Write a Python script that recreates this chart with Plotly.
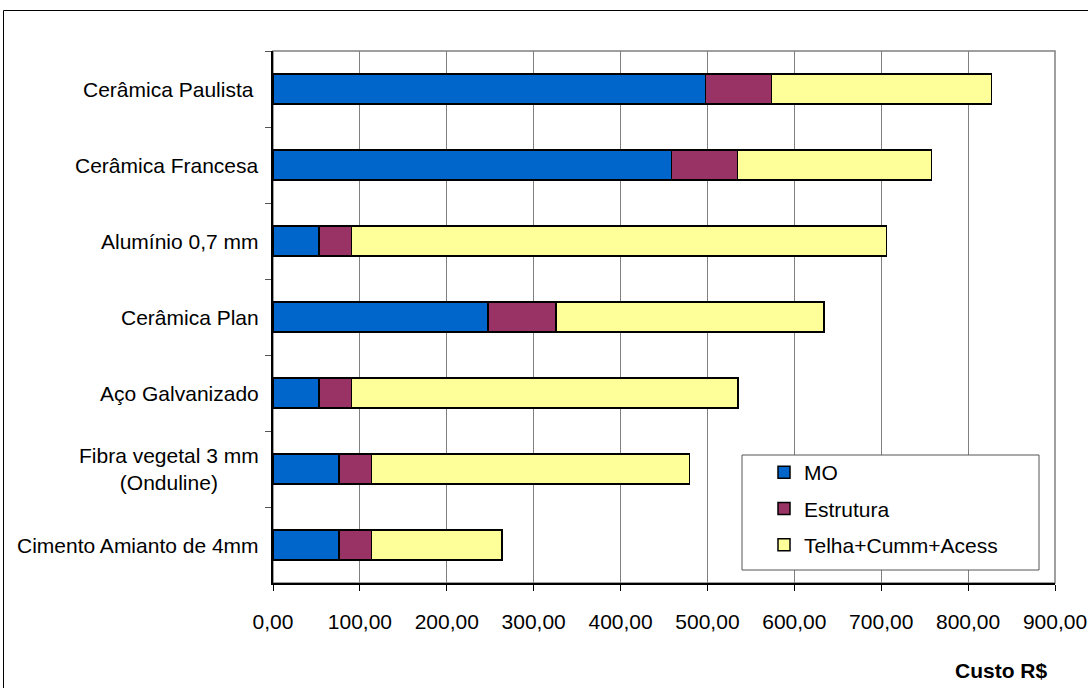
import plotly.graph_objects as go

# Roofing options (top to bottom) and cost breakdown in R$
categories = [
    "Cerâmica Paulista ",
    "Cerâmica Francesa",
    "Alumínio 0,7 mm",
    "Cerâmica Plan",
    "Aço Galvanizado",
    "Fibra vegetal 3 mm<br>(Onduline)",
    "Cimento Amianto de 4mm",
]
mo = [497.5, 458.4, 52.9, 247.4, 52.9, 76.0, 76.0]
estrutura = [76.4, 76.4, 37.6, 78.3, 37.6, 37.2, 37.2]
telha = [253.1, 223.2, 615.3, 308.4, 444.5, 366.0, 150.3]
x_ticks = [0, 100, 200, 300, 400, 500, 600, 700, 800, 900]

series = [
    ("MO", mo, "#0066CC"),
    ("Estrutura", estrutura, "#993366"),
    ("Telha+Cumm+Acess", telha, "#FFFF99"),
]

FONT = "Liberation Sans, Arial, sans-serif"
FS = 21
W, H = 1088, 688
ML, MR, MT, MB = 273, 33, 51, 105
PW, PH = W - ML - MR, H - MT - MB


def px_x(p):
    return (p - ML) / PW


def px_y(p):
    return (H - MB - p) / PH


fig = go.Figure()
for i, (name, vals, color) in enumerate(series):
    fig.add_trace(go.Bar(
        y=categories, x=vals, name=name, orientation="h",
        marker=dict(color=color, line=dict(color="black", width=1.5)),
        legendgroup=f"g{i}",
    ))

# category labels, centred line by line
annotations = [
    dict(x=px_x(261), xref="paper", y=c, yref="y", text=c, showarrow=False,
         xanchor="right", yanchor="middle", align="center",
         font=dict(family=FONT, size=FS, color="black"))
    for c in categories
]
annotations.append(dict(
    x=px_x(1001), xref="paper", y=px_y(670), yref="paper", text="<b>Custo R$</b>",
    showarrow=False, xanchor="center", yanchor="middle",
    font=dict(family=FONT, size=21, color="black")))

shapes = [
    # outer chart frame
    dict(type="rect", xref="paper", yref="paper",
         x0=px_x(3.5), x1=px_x(1100), y0=px_y(700), y1=px_y(10.5),
         line=dict(color="black", width=1), fillcolor="rgba(0,0,0,0)", layer="below"),
    # plot-area frame
    dict(type="rect", xref="paper", yref="paper", x0=0, x1=1, y0=0, y1=1,
         line=dict(color="#808080", width=1.5), fillcolor="rgba(0,0,0,0)", layer="below"),
    # legend frame
    dict(type="rect", xref="paper", yref="paper",
         x0=px_x(742), x1=px_x(1039), y0=px_y(570), y1=px_y(455),
         line=dict(color="#555555", width=1), fillcolor="white", layer="above"),
]

fig.update_layout(
    width=W, height=H,
    margin=dict(l=ML, r=MR, t=MT, b=MB, autoexpand=False),
    barmode="stack", bargap=0.61,
    paper_bgcolor="white", plot_bgcolor="white",
    separators=",.",
    font=dict(family=FONT, size=FS, color="black"),
    showlegend=True,
    legend=dict(
        x=px_x(764), xanchor="left", y=px_y(452), yanchor="top",
        bgcolor="rgba(0,0,0,0)", borderwidth=0,
        traceorder="grouped", tracegroupgap=6,
        font=dict(family=FONT, size=FS, color="black"),
    ),
    annotations=annotations,
    shapes=shapes,
    xaxis=dict(
        range=[0, 900], tickvals=x_ticks, tickformat=".2f",
        showgrid=True, gridcolor="#808080", gridwidth=1,
        showline=True, linecolor="black", linewidth=1.5,
        ticks="outside", ticklen=6, tickcolor="black",
        ticklabelstandoff=13, zeroline=False,
        tickfont=dict(family=FONT, size=FS, color="black"),
    ),
    yaxis=dict(
        autorange="reversed", showticklabels=False,
        ticks="outside", tickson="boundaries", ticklen=6, tickcolor="#555555",
        showline=True, linecolor="black", linewidth=1.5,
        showgrid=False, zeroline=False,
    ),
)

fig.write_html("out.html")
